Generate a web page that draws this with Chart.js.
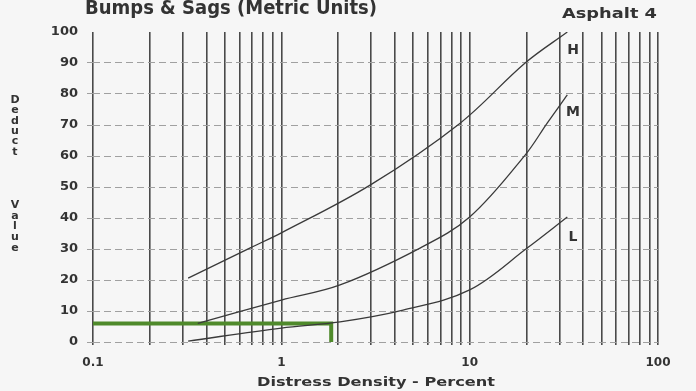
<!DOCTYPE html>
<html>
<head>
<meta charset="utf-8">
<script src="https://cdn.jsdelivr.net/npm/chart.js@4.4.1/dist/chart.umd.min.js"></script>
<style>
  html, body { margin: 0; padding: 0; background: #f6f6f6; }
  #wrap { width: 696px; height: 391px; }
</style>
</head>
<body>
<div id="wrap"><canvas id="chart" width="696" height="391"></canvas></div>
<script>
// Deduct value curves (x = distress density %, y = deduct value)
const highX = [0.32, 0.68, 1.0, 2.96, 8.9, 19.7, 33];
const highY = [20.6, 30.3, 35.2, 50.6, 70.6, 90, 100];
const medX = [0.36, 1.0, 2.05, 5.45, 10, 19.7, 25.8, 33];
const medY = [6, 13.5, 18.4, 30.3, 40.3, 60.3, 70.6, 79.7];
const lowX = [0.32, 1.0, 2.05, 4.43, 10, 20.2, 33];
const lowY = [0.3, 4.5, 6.5, 10.3, 16.8, 30.3, 40.3];

// green read-off line: density 1.84 -> deduct 6
const readX = [0.1, 1.84, 1.84];
const readY = [6, 6, 0];

// curve labels (H, M, L) and where they sit
const curveNames = ['H', 'M', 'L'];
const curveLabelX = [35.4, 35.4, 35.4];
const curveLabelY = [94.2, 74.2, 33.9];

const xGridValues = [0.1, 0.2, 0.3, 0.4, 0.5, 0.6, 0.7, 0.8, 0.9,
                     1, 2, 3, 4, 5, 6, 7, 8, 9,
                     10, 20, 30, 40, 50, 60, 70, 80, 90, 100];
const xTickLabels = [0.1, 1, 10, 100];

const toPoints = (xs, ys) => xs.map((x, i) => ({ x: x, y: ys[i] }));

const TEXT = '#333';
const FONT = '"DejaVu Sans", sans-serif';

function fitText(ctx, text, x, y, width) {
    const w = ctx.measureText(text).width;
    ctx.save();
    ctx.translate(x, y);
    ctx.scale(width / w, 1);
    ctx.fillText(text, 0, 0);
    ctx.restore();
}

const textPlugin = {
    id: 'texts',
    afterDraw(chart) {
        const ctx = chart.ctx;
        const xs = chart.scales.x, ys = chart.scales.y;
        ctx.save();
        ctx.fillStyle = TEXT;
        ctx.textAlign = 'left';
        ctx.textBaseline = 'alphabetic';

        ctx.font = 'bold 20px ' + FONT;
        fitText(ctx, 'Bumps & Sags (Metric Units)', 85, 14, 292);
        ctx.font = 'bold 14px ' + FONT;
        fitText(ctx, 'Asphalt 4', 562, 18, 95);
        ctx.font = 'bold 13px ' + FONT;
        fitText(ctx, 'Distress Density - Percent', 257, 386, 238);

        // stacked y title
        ctx.font = 'bold 11px ' + FONT;
        ctx.textAlign = 'center';
        ctx.textBaseline = 'middle';
        'Deduct'.split('').forEach((c, i) => ctx.fillText(c, 15, 100 + i * 10.4));
        'Value'.split('').forEach((c, i) => ctx.fillText(c, 15, 205 + i * 10.7));

        // curve names
        ctx.font = 'bold 14px ' + FONT;
        curveNames.forEach((n, i) => {
            ctx.fillText(n, xs.getPixelForValue(curveLabelX[i]), ys.getPixelForValue(curveLabelY[i]));
        });
        ctx.restore();
    }
};

const bgPlugin = {
    id: 'bg',
    beforeDraw(chart) {
        const ctx = chart.ctx;
        ctx.save();
        ctx.fillStyle = '#f6f6f6';
        ctx.fillRect(0, 0, chart.width, chart.height);
        ctx.restore();
    }
};

const curveStyle = {
    borderColor: '#3a3a3a',
    borderWidth: 1.3,
    pointRadius: 0,
    fill: false,
    tension: 0.35
};

new Chart(document.getElementById('chart'), {
    type: 'line',
    data: {
        datasets: [
            Object.assign({ label: 'H', data: toPoints(highX, highY) }, curveStyle),
            Object.assign({ label: 'M', data: toPoints(medX, medY) }, curveStyle),
            Object.assign({ label: 'L', data: toPoints(lowX, lowY) }, curveStyle),
            {
                label: 'read',
                data: toPoints(readX, readY),
                borderColor: '#4f8a2b',
                borderWidth: 4,
                pointRadius: 0,
                tension: 0,
                fill: false,
                borderCapStyle: 'butt',
                borderJoinStyle: 'miter'
            }
        ]
    },
    options: {
        responsive: false,
        animation: false,
        layout: { padding: { top: 32, right: 38, left: 0, bottom: 0 } },
        plugins: {
            legend: { display: false },
            tooltip: { enabled: false },
            title: { display: false }
        },
        scales: {
            x: {
                type: 'logarithmic',
                min: 0.1,
                max: 100,
                border: { display: false },
                afterBuildTicks: (scale) => {
                    scale.ticks = xGridValues.map(v => ({ value: v }));
                },
                afterFit: (scale) => { scale.height = 49; },
                grid: {
                    color: '#4a4a4a',
                    lineWidth: 1.6,
                    drawTicks: true,
                    tickLength: 3
                },
                ticks: {
                    autoSkip: false,
                    maxRotation: 0,
                    padding: 11,
                    color: TEXT,
                    font: { family: FONT, weight: 'bold', size: 12 },
                    callback: (v) => xTickLabels.includes(v) ? String(v) : ''
                }
            },
            y: {
                min: 0,
                max: 100,
                border: { display: false, dash: [7, 4] },
                afterFit: (scale) => { scale.width = 93; },
                grid: {
                    color: (c) => c.tick && c.tick.value === 100 ? 'rgba(0,0,0,0)' : '#a0a0a0',
                    lineWidth: 1,
                    tickLength: 6,
                    tickBorderDash: [7, 4]
                },
                ticks: {
                    stepSize: 10,
                    padding: 9,
                    color: TEXT,
                    font: { family: FONT, weight: 'bold', size: 13 }
                }
            }
        }
    },
    plugins: [bgPlugin, textPlugin]
});
</script>
</body>
</html>
